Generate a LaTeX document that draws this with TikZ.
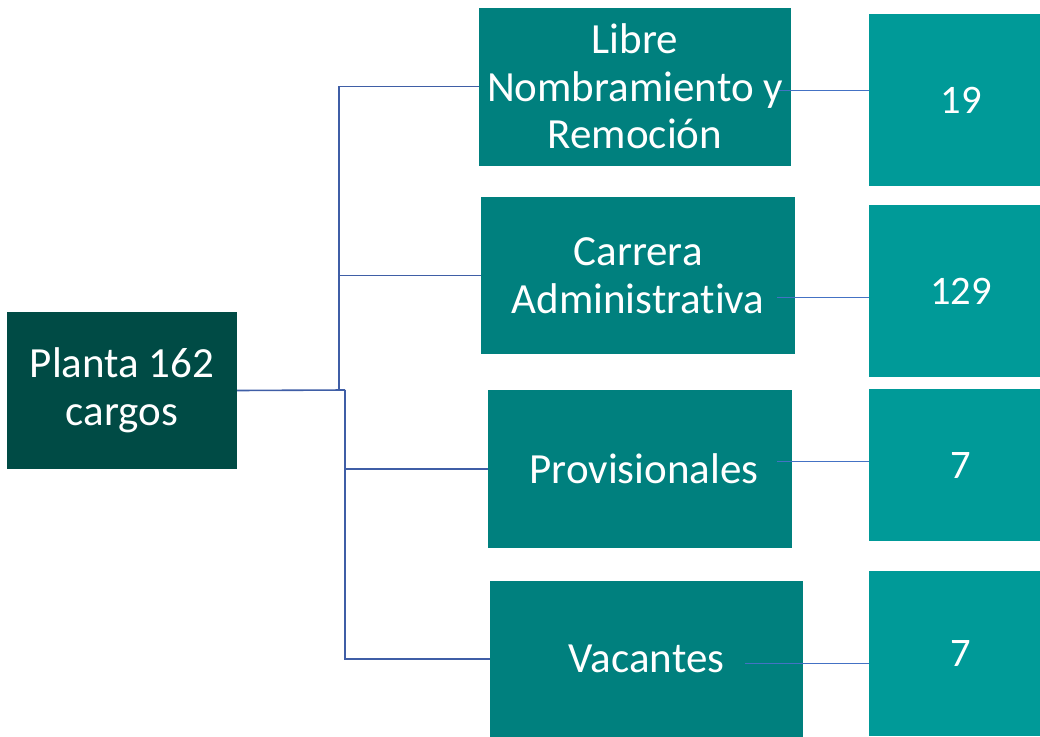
\documentclass[tikz,border=0pt]{standalone}
\usepackage{fontspec}
\setmainfont{Carlito}[Ligatures=NoCommon]
\definecolor{plantacol}{HTML}{004B45}
\definecolor{tipocol}{HTML}{00807E}
\definecolor{numcol}{HTML}{009A98}
\definecolor{ramacol}{HTML}{3F5EA6}
\definecolor{ligacol}{HTML}{4472C4}
\begin{document}
\begin{tikzpicture}[x=1pt,y=-1pt,
    caja/.style={fill=#1, text=white, inner sep=0pt, align=center,
      font=\fontsize{43}{47.5}\selectfont},
    cifra/.style={fill=numcol, text=white, inner sep=0pt,
      minimum width=184, font=\fontsize{40.5}{44}\selectfont},
    rama/.style={draw=ramacol, line width=1.6pt},
    liga/.style={draw=ligacol, line width=0.8pt}]
  \clip (0,0) rectangle (1040,736);
  % bloque de la planta
  \node[caja=plantacol, minimum width=230, minimum height=157] (planta) at (122,390.5) {Planta 162\\cargos};
  % tipos de cargo
  \node[caja=tipocol, minimum width=312, minimum height=158] (libre) at (635,86.5) {Libre\\Nombramiento y\\Remoción};
  \node[caja=tipocol, minimum width=314, minimum height=157] (carrera) at (638,275.5) {Carrera\\Administrativa};
  \node[caja=tipocol, minimum width=304, minimum height=158] (prov) at (640,469) {\hspace*{8pt}Provisionales};
  \node[caja=tipocol, minimum width=313, minimum height=156] (vac) at (646.5,659) {Vacantes};
  % cantidades
  \node[cifra, minimum height=172] (n19) at (961,100) {19};
  \node[cifra, minimum height=172] (n129) at (961,291) {129};
  \node[cifra, minimum height=152] (n7a) at (961,465) {7};
  \node[cifra, minimum height=165] (n7b) at (961,653.5) {7};
  % arbol
  \coordinate (jarriba) at (339,390);
  \coordinate (jabajo) at (345,390);
  \draw[rama] (planta.east) -- (jabajo);
  \draw[rama] (jarriba) |- (libre.west);
  \draw[rama] (jarriba) |- (carrera.west);
  \draw[rama] (jabajo) |- (prov.west);
  \draw[rama] (jabajo) |- (vac.west);
  % enlaces a las cantidades
  \coordinate (l19) at (778,90);
  \coordinate (l129) at (777,297);
  \coordinate (l7a) at (777,461);
  \coordinate (l7b) at (745,663);
  \draw[liga] (l19) -- (l19 -| n19.west);
  \draw[liga] (l129) -- (l129 -| n129.west);
  \draw[liga] (l7a) -- (l7a -| n7a.west);
  \draw[liga] (l7b) -- (l7b -| n7b.west);
\end{tikzpicture}
\end{document}
